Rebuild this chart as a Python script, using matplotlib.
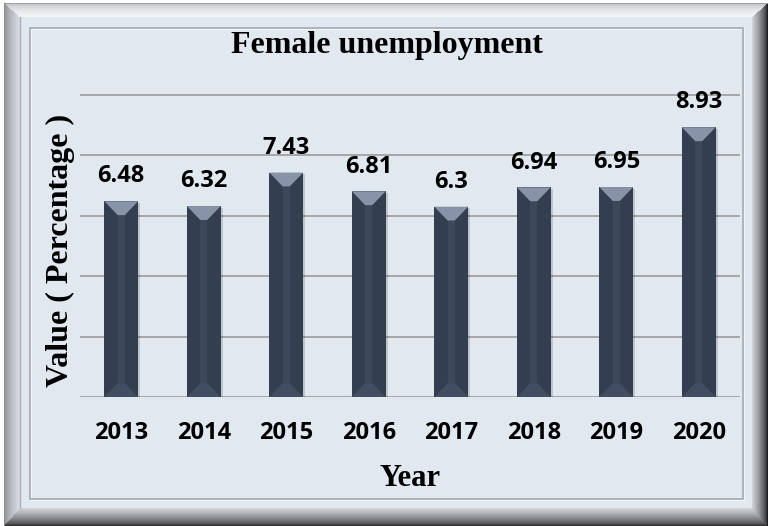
import numpy as np
import matplotlib.pyplot as plt
from matplotlib.patches import Polygon, Rectangle

# datos
years = ['2013', '2014', '2015', '2016', '2017', '2018', '2019', '2020']
values = [6.48, 6.32, 7.43, 6.81, 6.3, 6.94, 6.95, 8.93]
yticks = [0, 2, 4, 6, 8, 10]

W, H = 768, 526
fig = plt.figure(figsize=(W / 100, H / 100), dpi=100)

# marco biselado de fondo
def mix(c0, c1, t):
    c0, c1 = np.array(c0), np.array(c1)
    return c0 + (c1 - c0) * t[..., None]

yy, xx = np.mgrid[0:H, 0:W].astype(float)
img = np.empty((H, W, 3))
img[:] = [0.886, 0.910, 0.941]
tl = (xx - 4) / 16
tt = (yy - 3) / 14
tr = (W - 1 - xx) / 16
tb = (H - 1 - yy) / 18
stack = np.stack([tl, tt, tr, tb])
side = np.argmin(stack, axis=0)
tmin = np.clip(np.min(stack, axis=0), 0, 1)
grads = [
    ((0.54, 0.55, 0.57), (0.87, 0.88, 0.91), 0.7),
    ((0.62, 0.63, 0.65), (0.96, 0.965, 0.975), 0.3),
    ((0.12, 0.12, 0.13), (0.84, 0.85, 0.87), 0.7),
    ((0.19, 0.19, 0.20), (0.84, 0.85, 0.87), 0.7),
]
for k, (c0, c1, g) in enumerate(grads):
    m = (side == k) & (np.min(stack, axis=0) < 1)
    img[m] = mix(c0, c1, tmin[m] ** g)
img[(xx < 4) | (yy < 3)] = 1.0

bg = fig.add_axes([0, 0, 1, 1])
bg.imshow(img, extent=(0, W, H, 0), aspect='auto')
bg.set_xlim(0, W)
bg.set_ylim(H, 0)
bg.axis('off')
bg.plot([20, 20], [17, 508], color='#a9adb5', lw=1)
bg.add_patch(Rectangle((31, 29), 713, 471, fill=False, ec='#f8f9fb', lw=1.2))
bg.add_patch(Rectangle((30, 28), 713, 471, fill=False, ec='#a4a8b0', lw=1.2))

ax = fig.add_axes([80 / W, (H - 397) / H, 660 / W, (397 - 94) / H])
ax.set_facecolor('none')

x = np.arange(len(years))
bw = 0.41
hw = bw / 2
sw = 0.043
bh = 0.46

ax.bar(x + 0.025, np.array(values) - 0.05, width=bw, color='black', alpha=0.15, zorder=2)
ax.bar(x, values, width=bw, color='#333e50', zorder=3)
for xi, v in zip(x, values):
    ax.add_patch(Rectangle((xi - sw, bh), 2 * sw, v - 2 * bh, color='#3d495b', zorder=4, lw=0))
    ax.add_patch(Polygon([(xi - hw, v), (xi + hw, v), (xi + sw, v - bh), (xi - sw, v - bh)],
                         closed=True, color='#8793a6', zorder=4, lw=0))
    ax.add_patch(Polygon([(xi - hw, 0), (xi + hw, 0), (xi + sw, bh), (xi - sw, bh)],
                         closed=True, color='#414d60', zorder=4, lw=0))
    ax.annotate(f'{v:g}', (xi, v), xytext=(0, 13.5), textcoords='offset points',
                ha='center', va='baseline', fontsize=17, fontweight='bold',
                family='Open Sans', color='black', zorder=5)

ax.set_xlim(-0.5, len(years) - 0.5)
ax.set_ylim(0, 10.03)
ax.set_yticks(yticks)
ax.set_yticklabels([])
ax.set_xticks(x)
ax.set_xticklabels(years, fontsize=17, fontweight='bold', family='Open Sans')
ax.tick_params(length=0, pad=17)
ax.tick_params(axis='y', pad=0)
ax.grid(axis='y', color='#a6a6a6', lw=1.4, zorder=1)
for s in ax.spines.values():
    s.set_visible(False)

fig.text(387 / W, (H - 53) / H, 'Female unemployment', ha='center', va='baseline',
         fontsize=23, fontweight='bold', family='Liberation Serif')
fig.text(410 / W, (H - 486) / H, 'Year', ha='center', va='baseline',
         fontsize=22, fontweight='bold', family='Liberation Serif')
fig.text(60 / W, (H - 250) / H, 'Value ( Percentage )', ha='center', va='center',
         rotation=90, fontsize=23, fontweight='bold', family='Liberation Serif')

fig.savefig('out.png', dpi=100)
